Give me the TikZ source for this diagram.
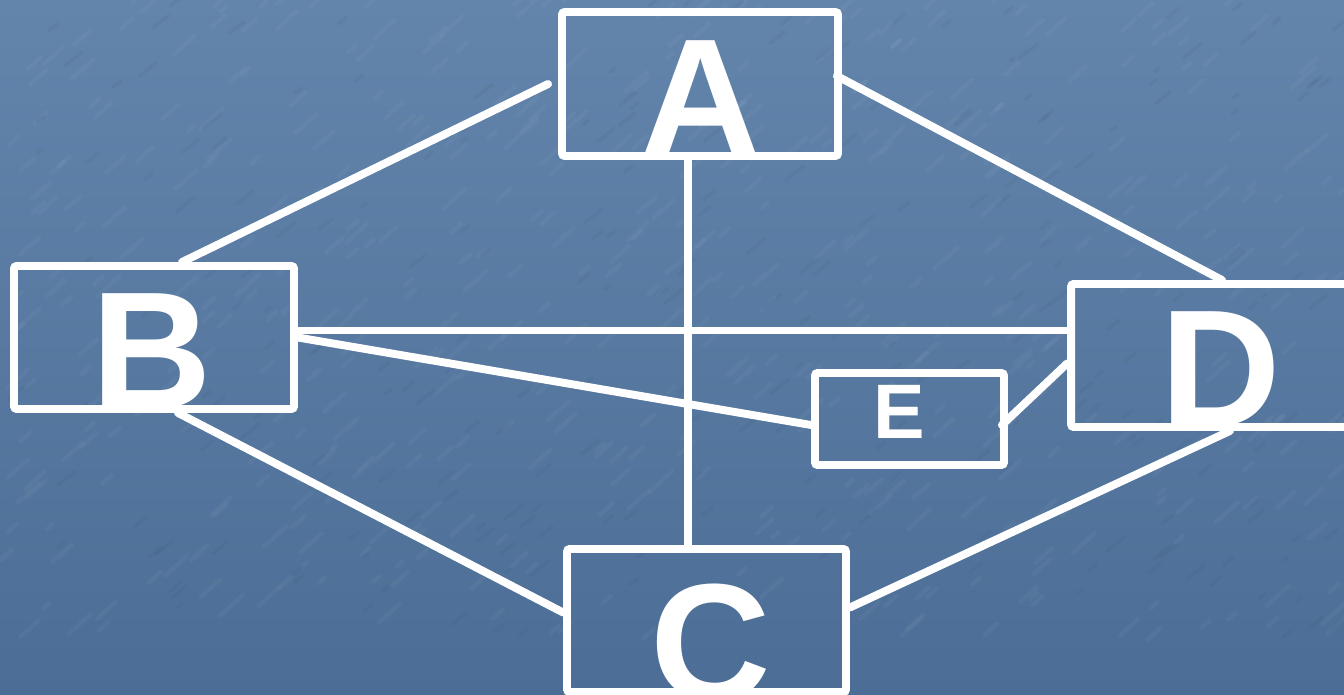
\documentclass[tikz,border=0pt]{standalone}
\usepackage{fontspec}
\setmainfont{Liberation Sans}

\definecolor{slatetop}{RGB}{99,132,171}
\definecolor{slatebot}{RGB}{76,110,150}

\tikzset{
  box/.style={draw=white, line width=4.5pt, rounded corners=1.5pt, inner sep=0pt},
  link/.style={draw=white, line width=4.5pt, line cap=round},
  letter/.style={text=white, font=\bfseries\fontsize{95}{95}\selectfont, inner sep=0pt, anchor=base},
  smallletter/.style={letter, font=\bfseries\fontsize{44}{44}\selectfont}
}

\begin{document}
\begin{tikzpicture}[x=0.02cm, y=-0.02cm]

\clip (0, 0) rectangle (1344, 695);
\shade[top color=slatetop, bottom color=slatebot] (0, 0) rectangle (1344, 695);

% granite streaks
\pgfmathsetseed{11}
\foreach \i in {1,...,500} {
  \pgfmathsetmacro\px{rnd*1344}
  \pgfmathsetmacro\py{rnd*640}
  \pgfmathsetmacro\len{5+rnd*18}
  \draw[white, opacity=0.035, line width=2.5pt, line cap=round] (\px, \py) -- ++(\len, -0.9*\len);
}
\foreach \i in {1,...,250} {
  \pgfmathsetmacro\px{rnd*1344}
  \pgfmathsetmacro\py{rnd*640}
  \pgfmathsetmacro\len{4+rnd*14}
  \draw[black, opacity=0.03, line width=2pt, line cap=round] (\px, \py) -- ++(\len, -0.8*\len);
}

\node[box, minimum width=5.52cm, minimum height=2.88cm] (a) at (700, 84) {};
\node[box, minimum width=5.6cm, minimum height=2.86cm] (b) at (154, 337.5) {};
\node[box, minimum width=5.58cm, minimum height=2.86cm] (c) at (706.5, 620.5) {};
\node[box, minimum width=6.04cm, minimum height=2.86cm] (d) at (1222, 355.5) {};
\node[box, minimum width=3.78cm, minimum height=1.84cm] (e) at (909.5, 419) {};

\node[letter] (la) at ([shift={(1, -4)}]a.south) {A};
\node[letter] (lb) at ([shift={(-2, -4)}]b.south) {B};
\node[letter] (lc) at ([shift={(4, 5)}]c.south) {C};
\node[letter] (ld) at ([shift={(-1, -4)}]d.south) {D};
\node[smallletter] (le) at ([shift={(-10, 19)}]e.center) {E};

\draw[link] ([shift={(-10, 0)}]a.west) -- ([shift={(28, 0)}]b.north);
\draw[link] ([shift={(-5, -8)}]a.east) -- (d.north);
\draw[link] ([shift={(-12, -4)}]a.south) -- ([shift={(-18.5, 0)}]c.north);
\draw[link] ([shift={(0, -7)}]b.east) -- ([shift={(0, -25)}]d.west);
\draw[link] (b.east) -- ([shift={(0, 6)}]e.west);
\draw[link] ([shift={(-6, 6)}]e.east) -- ([shift={(0, 8)}]d.west);
\draw[link] ([shift={(24, 0)}]b.south) -- ([shift={(0, -8)}]c.west);
\draw[link] ([shift={(8, 0)}]d.south) -- ([shift={(0, -13)}]c.east);

\end{tikzpicture}
\end{document}
